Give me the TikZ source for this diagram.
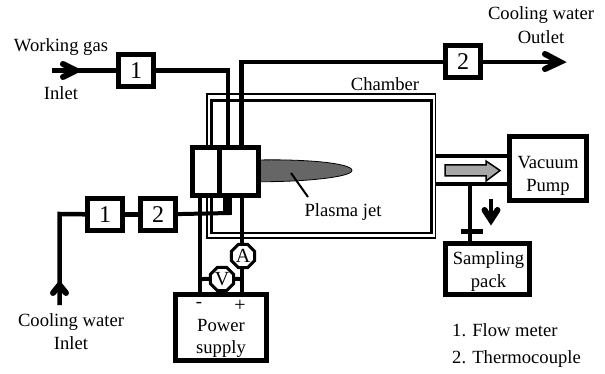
\documentclass[tikz,border=0pt]{standalone}
\usepackage{fontspec}
\setmainfont{Liberation Serif}
\usetikzlibrary{shapes.geometric,arrows.meta}
\begin{document}
\begin{tikzpicture}[x=1pt,y=-1pt,
  lbl/.style={inner sep=0pt,font=\fontsize{18.6}{22.5}\selectfont},
  thick box/.style={draw,line width=5pt,fill=white,inner sep=0pt,minimum width=35pt,minimum height=32pt,font=\fontsize{24}{26}\selectfont},
  pipe/.style={line width=4.5pt},
  wallO/.style={line width=1.5pt},
  wallI/.style={line width=2.4pt},
  frame/.style={draw,line width=5pt,fill=white,inner sep=0pt},
  meter/.style={draw,line width=3pt,fill=white,regular polygon,regular polygon sides=8,inner sep=0pt,minimum size=25pt,font=\fontsize{20}{20}\selectfont},
  chev/.style={line width=6pt,line cap=round,line join=miter}]
\useasboundingbox (0,0) rectangle (605,374);
% chamber
\node[draw,wallO,minimum width=228.5pt,minimum height=144pt,inner sep=0pt] (chamberO) at (321.25,166) {};
\node[draw,wallI,minimum width=220pt,minimum height=132.5pt,inner sep=0pt] (chamberI) at (321.5,166.75) {};
\node[lbl] (chamberT) at (385,84) {Chamber};
% jet
\path[draw=black,line width=.8pt,fill=black!60] (258,160) .. controls (305,159) and (352,163) .. (352,170.5) .. controls (352,177) and (305,182) .. (258,181.7) -- cycle;
\node[lbl] (jetT) at (343,212) {Plasma jet};
\coordinate (jetA) at (291,173);
\coordinate (jetB) at (308,197);
\draw[line width=2pt] (jetA) -- (jetB);
% gas boxes
\node[thick box] (gas1) at (136,70.5) {1};
\node[thick box] (out2) at (463,62) {2};
\node[thick box] (cw1) at (105,214.5) {1};
\node[thick box] (cw2) at (158,214.5) {2};
% inlet / outlet
\coordinate (gasS) at (52,70.5);
\draw[pipe] (gasS) -- (gas1);
\coordinate (ga) at (76,70.5);
\draw[chev] (63,64) -- (ga) -- (63,77);
\coordinate (gasT) at (228,145);
\draw[pipe] (gas1) -| (gasT);
\coordinate (outT) at (241.7,145);
\draw[pipe] (outT) |- (out2);
\coordinate (outE) at (555,62);
\draw[pipe] (out2) -- (outE);
\coordinate (oa) at (560,62);
\draw[chev] (545,54) -- (oa) -- (545,69);
% torch
\node[frame,minimum width=26.5pt,minimum height=47.7pt] (torchL) at (205.75,171.4) {};
\node[frame,minimum width=39pt,minimum height=47.7pt] (torchR) at (238.5,171.4) {};
% cooling in
\coordinate (cwC) at (59.5,214);
\coordinate (cwE) at (59.5,305);
\draw[pipe] (cw1) -- (cwC) -- (cwE);
\draw[chev] (53,293) -- (59.5,285) -- (66,293);
\draw[pipe] (cw1) -- (cw2);
\coordinate (stub) at (230,213);
\draw[line width=4pt] (cw2) -- (stub);
\fill (223,197) rectangle (232,215);
% power
\node[frame,minimum width=91pt,minimum height=66pt] (power) at (221,327.5) {};
\node[lbl,align=center] (powerT) at (221,338.5) {Power\\supply};
\node[lbl] (minusT) at (199,305) {-};
\node[lbl,font=\fontsize{20}{22}\selectfont] (plusT) at (240,306) {+};
\coordinate (pL) at (200,197);
\coordinate (pLb) at (200,292);
\coordinate (pR) at (242,197);
\coordinate (pRb) at (242,292);
\draw[pipe] (pL) -- (pLb);
\draw[pipe] (pR) -- (pRb);
\node[meter] (A) at (243,256) {A};
\node[meter] (V) at (222,279) {V};
\coordinate (vL) at (200,279);
\coordinate (vR) at (242,279);
\draw[line width=4pt] (vL) -- (V) -- (vR);
% vacuum
\node[frame,minimum width=77pt,minimum height=64pt] (pump) at (548,168.5) {};
\node[lbl,align=center] (pumpT) at (548,176) {Vacuum\\Pump};
\coordinate (p1) at (436,156);
\coordinate (p1e) at (507,156);
\coordinate (p2) at (436,184);
\coordinate (p2e) at (507,184);
\draw[pipe] (p1) -- (p1e);
\draw[pipe] (p2) -- (p2e);
\draw[line width=1.5pt,fill=black!35] (445,165) -- (486,165) -- (486,161) -- (500,170.5) -- (486,181) -- (486,176) -- (445,176) -- cycle;
\node[frame,minimum width=84pt,minimum height=51pt] (pack) at (487.5,269) {};
\node[lbl,align=center] (packT) at (488.5,271.5) {Sampling\\pack};
\coordinate (stemT) at (470,184);
\draw[pipe] (stemT) -- (stemT |- pack.north);
\coordinate (barL) at (461,232);
\coordinate (barR) at (483,232);
\draw[line width=5pt] (barL) -- (barR);
\coordinate (downT) at (491,199);
\coordinate (downB) at (491,220);
\draw[pipe] (downT) -- (downB);
\draw[chev] (484.5,210) -- (downB) -- (497.5,210);
% texts
\node[lbl] (wgT) at (61,47) {Working gas};
\node[lbl] (inT) at (61,93) {Inlet};
\node[lbl] (cwT) at (71,322) {Cooling water};
\node[lbl] (cwT2) at (71,343) {Inlet};
\node[lbl] (coT) at (541,15) {Cooling water};
\node[lbl] (coT2) at (541,37) {Outlet};
\node[lbl,anchor=west] (leg1) at (452,330) {1. Flow meter};
\node[lbl,anchor=west] (leg2) at (452,359) {2. Thermocouple};
\end{tikzpicture}
\end{document}
